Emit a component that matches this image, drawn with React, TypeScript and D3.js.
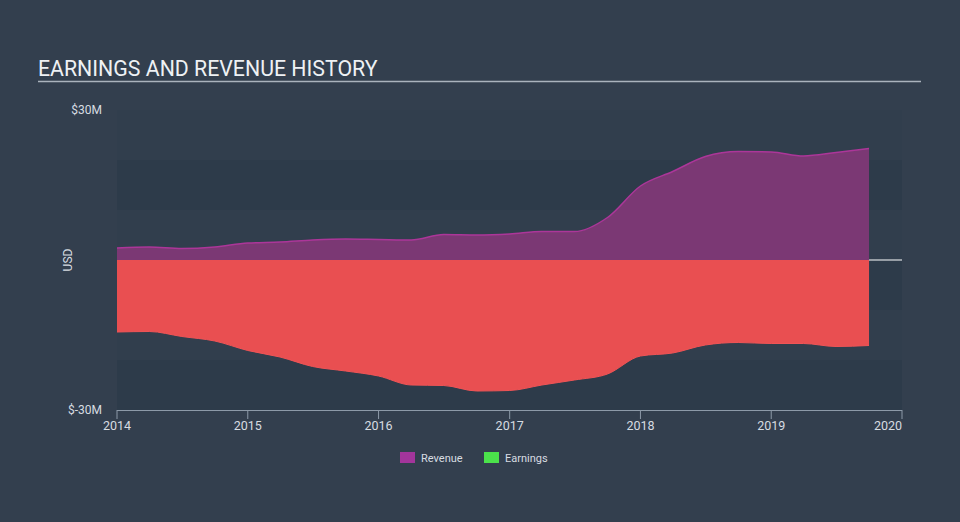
import React from 'react'
import * as d3 from 'd3'

const WIDTH = 960
const HEIGHT = 522
const PLOT = { left: 117, right: 902, top: 110, bottom: 410 }

// quarterly points, values in $M
const dates = [
  '2014-01-01', '2014-04-01', '2014-07-01', '2014-10-01',
  '2015-01-01', '2015-04-01', '2015-07-01', '2015-10-01',
  '2016-01-01', '2016-04-01', '2016-07-01', '2016-10-01',
  '2017-01-01', '2017-04-01', '2017-07-01', '2017-10-01',
  '2018-01-01', '2018-04-01', '2018-07-01', '2018-10-01',
  '2019-01-01', '2019-04-01', '2019-07-01', '2019-10-01',
]
const revenue = [
  2.4, 2.6, 2.3, 2.6,
  3.4, 3.6, 4.0, 4.2,
  4.1, 4.0, 5.1, 5.0,
  5.2, 5.7, 5.7, 8.5,
  14.8, 17.7, 20.7, 21.7,
  21.6, 20.8, 21.5, 22.3,
]
const earnings = [
  -14.4, -14.3, -15.3, -16.2,
  -18.1, -19.4, -21.3, -22.2,
  -23.2, -25.0, -25.1, -26.2,
  -26.1, -25.0, -24.0, -22.8,
  -19.2, -18.6, -17.0, -16.5,
  -16.7, -16.7, -17.3, -17.1,
]
const yearTicks = ['2014', '2015', '2016', '2017', '2018', '2019', '2020']
const bandEdges = [30, 20, 10, 0, -10, -20, -30]
const legendItems = ['Revenue', 'Earnings']

const BG = '#333f4e'
const FONT = 'Roboto, "Open Sans", sans-serif'

export default function App() {
  const parse = d3.timeParse('%Y-%m-%d')
  const data = dates.map((d, i) => ({ date: parse(d) as Date, rev: revenue[i], earn: earnings[i] }))

  const x = d3.scaleTime()
    .domain([new Date(2014, 0, 1), new Date(2020, 0, 1)])
    .range([PLOT.left, PLOT.right])
  const y = d3.scaleLinear().domain([-30, 30]).range([PLOT.bottom, PLOT.top])

  const revArea = d3.area<any>()
    .x((d) => x(d.date))
    .y0(y(0))
    .y1((d) => y(d.rev))
    .curve(d3.curveMonotoneX)
  const revLine = d3.line<any>()
    .x((d) => x(d.date))
    .y((d) => y(d.rev))
    .curve(d3.curveMonotoneX)
  const earnArea = d3.area<any>()
    .x((d) => x(d.date))
    .y0(y(0))
    .y1((d) => y(d.earn))
    .curve(d3.curveMonotoneX)
  const earnLine = d3.line<any>()
    .x((d) => x(d.date))
    .y((d) => y(d.earn))
    .curve(d3.curveMonotoneX)

  // alternating bands, every other 10M strip darker
  const bands = d3.pairs(bandEdges).map(([top, bot], i) => ({ top, bot, dark: i % 2 === 1 }))

  return (
    <div style={{ position: 'absolute', left: 0, top: 0 }}>
      <svg width={WIDTH} height={HEIGHT} style={{ display: 'block', fontFamily: FONT }}>
        <rect width={WIDTH} height={HEIGHT} fill={BG} />

        <text x={38} y={76} fill="#eef1f4" fontSize={21.3}>EARNINGS AND REVENUE HISTORY</text>
        <line x1={38} x2={921} y1={81.5} y2={81.5} stroke="#aab3bd" strokeWidth={1.5} />

        {bands.map((b, i) => (
          <rect key={i} x={PLOT.left} width={PLOT.right - PLOT.left}
            y={y(b.top)} height={y(b.bot) - y(b.top)}
            fill={b.dark ? '#2d3b4a' : '#313e4d'} />
        ))}

        <line x1={PLOT.left} x2={PLOT.right} y1={y(0)} y2={y(0)} stroke="#ffffff" strokeWidth={1.2} />

        <path d={revArea(data) || ''} fill="#7b3874" />
        <path d={revLine(data) || ''} fill="none" stroke="#ac3699" strokeWidth={1.5} />
        <path d={earnArea(data) || ''} fill="#e94f51" />
        <path d={earnLine(data) || ''} fill="none" stroke="#f05456" strokeWidth={1} />

        <text x={102} y={114} textAnchor="end" fill="#d7dce1" fontSize={12}>$30M</text>
        <text x={102} y={414} textAnchor="end" fill="#d7dce1" fontSize={12}>$-30M</text>
        <text transform={`translate(72,${y(0)}) rotate(-90)`} textAnchor="middle" fill="#d7dce1" fontSize={12}>USD</text>

        <line x1={PLOT.left} x2={PLOT.right} y1={PLOT.bottom + 0.5} y2={PLOT.bottom + 0.5} stroke="#8d9aa8" />
        {yearTicks.map((t, i) => {
          const tx = x(new Date(+t, 0, 1))
          const last = i === yearTicks.length - 1
          return (
            <g key={t}>
              <line x1={tx} x2={tx} y1={PLOT.bottom} y2={PLOT.bottom + 9} stroke="#8d9aa8" />
              <text x={tx} y={430} textAnchor={last ? 'end' : 'middle'} fill="#d7dce1" fontSize={12.5}>{t}</text>
            </g>
          )
        })}

        {legendItems.map((name, i) => {
          const lx = i === 0 ? 400 : 484
          return (
            <g key={name}>
              <rect x={lx} y={452} width={15} height={11} fill={i === 0 ? '#a3359b' : '#4be24b'} />
              <text x={lx + 21} y={462} fill="#d7dce1" fontSize={11}>{name}</text>
            </g>
          )
        })}
      </svg>
    </div>
  )
}
